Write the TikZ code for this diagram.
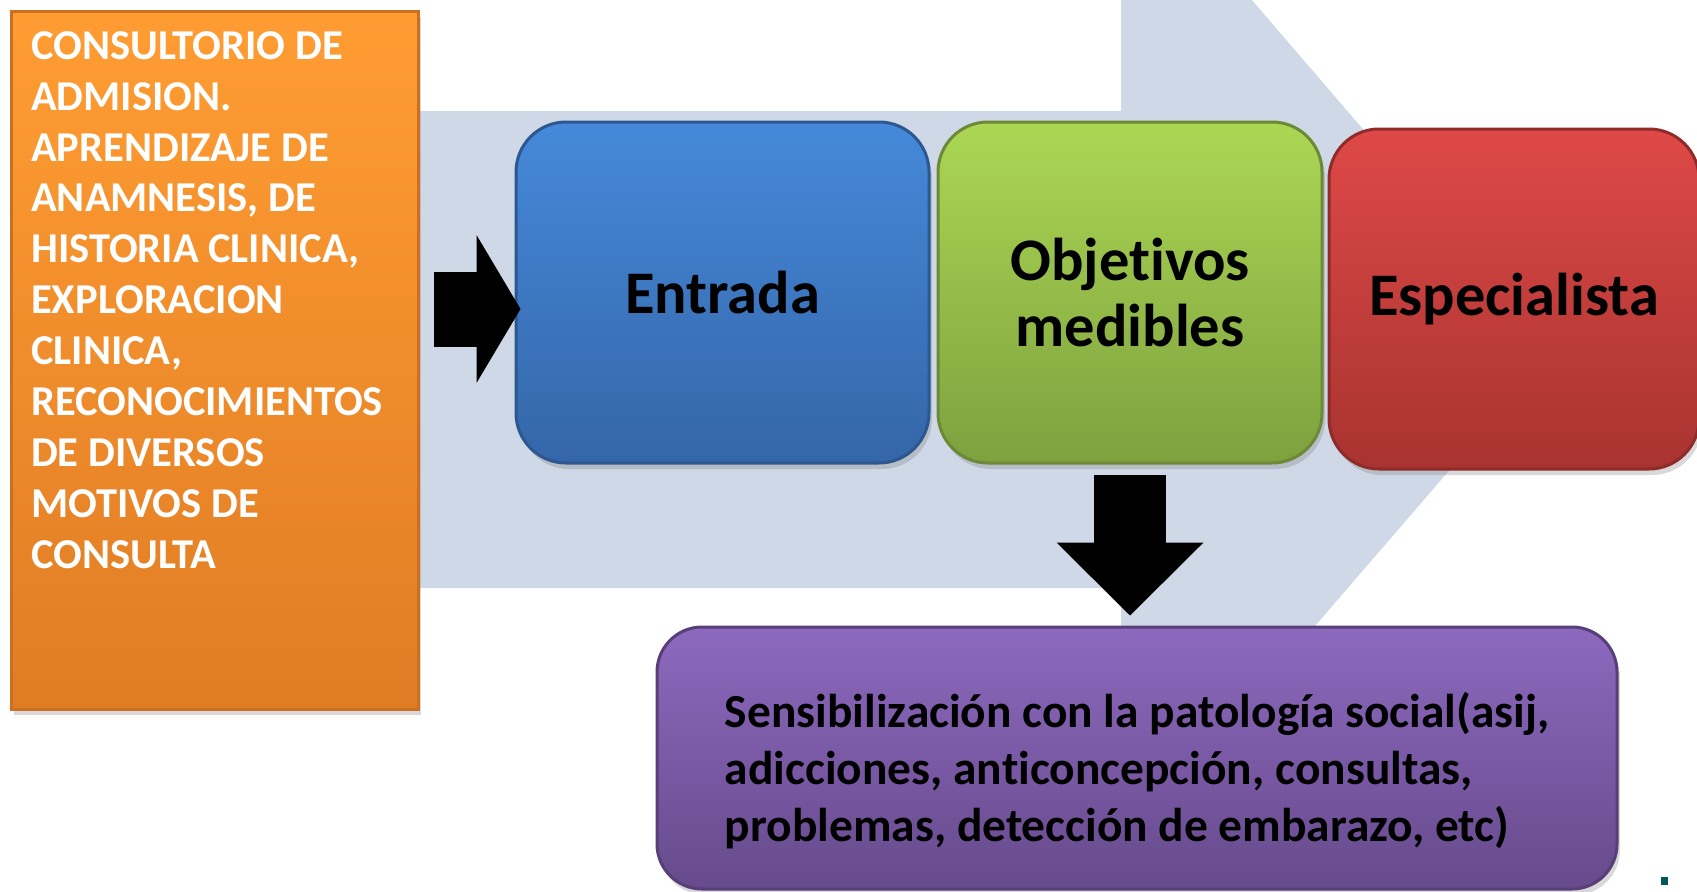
\documentclass[tikz,border=0pt]{standalone}
\usepackage{fontspec}
\setmainfont{Carlito}[Ligatures=NoCommon]
\usepackage{tikz}
\usetikzlibrary{arrows.meta, positioning, shadows}
\definecolor{fondo}{RGB}{207,216,230}
\definecolor{naranjaA}{RGB}{255,157,51}
\definecolor{naranjaB}{RGB}{224,124,36}
\definecolor{azulA}{RGB}{70,137,218}
\definecolor{azulB}{RGB}{52,102,168}
\definecolor{verdeA}{RGB}{172,215,84}
\definecolor{verdeB}{RGB}{126,161,63}
\definecolor{rojoA}{RGB}{222,73,71}
\definecolor{rojoB}{RGB}{168,51,48}
\definecolor{moradoA}{RGB}{140,105,190}
\definecolor{moradoB}{RGB}{103,74,140}
\tikzstyle{sombra} = [drop shadow={opacity=0.3, shadow xshift=0.3mm, shadow yshift=-0.6mm}]
\tikzstyle{caja} = [rectangle, minimum width=40.7mm, minimum height=69.8mm, inner sep=0pt, top color=naranjaA, bottom color=naranjaB, draw=naranjaB!90!black, line width=0.3mm, sombra]
\tikzstyle{textocaja} = [inner sep=0pt, align=left, text=white, font=\fontsize{12.1}{14.5}\selectfont\bfseries]
\tikzstyle{bloque} = [rectangle, rounded corners=5mm, minimum height=34.1mm, inner sep=0pt, align=center, line width=0.3mm, font=\fontsize{17.2}{18.6}\selectfont\bfseries, sombra]
\tikzstyle{ancho} = [rectangle, rounded corners=4.5mm, minimum width=96mm, minimum height=26.2mm, inner sep=0pt, top color=moradoA, bottom color=moradoB, draw=moradoB!85!black, line width=0.3mm, sombra]
\tikzstyle{textomorado} = [inner sep=0pt, align=left, font=\fontsize{13.5}{16.2}\selectfont\bfseries]
\tikzstyle{flecha} = [line width=7.5mm, -{Triangle[length=4.4mm, width=14.8mm, line width=0pt]}]

\begin{document}
\begin{tikzpicture}[x=0.1mm, y=-0.1mm]
    \useasboundingbox (0,0) rectangle (1697,891);

    % flecha grande del fondo
    \begin{scope}
        \clip (0,0) rectangle (1697,891);
        \fill[fondo] (300,111) -- (1121,111) -- (1121,-152) -- (1553,350) -- (1121,851) -- (1121,588) -- (300,588) -- cycle;
    \end{scope}

    \node[caja] (caja) at (214.5,360) {};
    \node[textocaja, anchor=north west] (admision) at ([xshift=2.1mm, yshift=-2.1mm]caja.north west)
        {CONSULTORIO DE\\ADMISION.\\APRENDIZAJE DE\\ANAMNESIS, DE\\HISTORIA CLINICA,\\EXPLORACION\\CLINICA,\\RECONOCIMIENTOS\\DE DIVERSOS\\MOTIVOS DE\\CONSULTA};

    \node[bloque, minimum width=41.3mm, top color=azulA, bottom color=azulB, draw=azulB!85!black] (entrada) at (722.5,292.5) {Entrada};
    \node[bloque, minimum width=38.4mm, top color=verdeA, bottom color=verdeB, draw=verdeB!85!black, right=0.6mm of entrada] (objetivos) {Objetivos\\medibles};
    \node[bloque, minimum width=37mm, minimum height=34mm, top color=rojoA, bottom color=rojoB, draw=rojoB!85!black, right=0.4mm of objetivos, yshift=-0.65mm] (especialista) {Especialista};

    \node[ancho, below=16.1mm of objetivos, xshift=0.7mm] (purpura) {};
    \node[textomorado] (sensib) at ([yshift=-1.3mm]purpura.center)
        {Sensibilización con la patología social(asij,\\adicciones, anticoncepción, consultas,\\problemas, detección de embarazo, etc)};

    \coordinate (entradaIn) at ([yshift=-1.65mm]entrada.west);
    \draw[flecha, shorten <=1.4mm, shorten >=-0.6mm] (caja.east |- entradaIn) -- (entradaIn);
    \draw[flecha, line width=7.2mm, -{Triangle[length=7.3mm, width=14.7mm, line width=0pt]}, shorten <=1mm, shorten >=1mm] (objetivos.south) -- (objetivos.south |- purpura.north);

    \fill[teal!70!black] (1661,877) rectangle (1668,885);
\end{tikzpicture}
\end{document}
